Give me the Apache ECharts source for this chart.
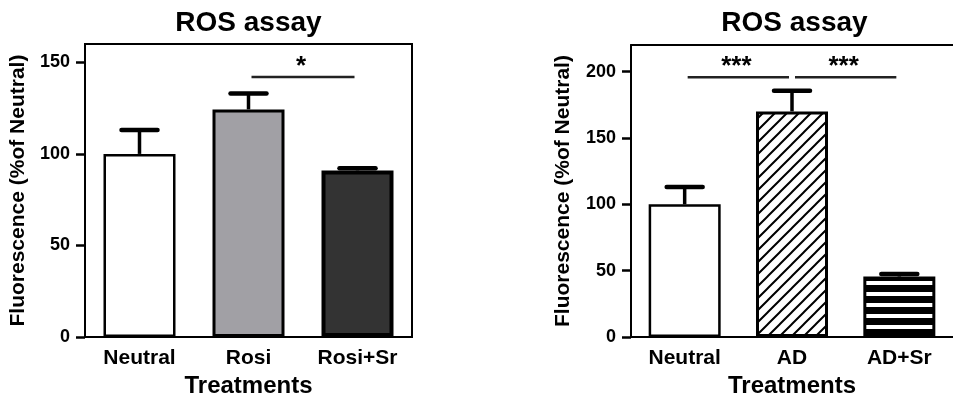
<!DOCTYPE html>
<html>
<head>
<meta charset="utf-8">
<script src="https://cdn.jsdelivr.net/npm/echarts@6/dist/echarts.min.js"></script>
<style>
    html, body { margin: 0; padding: 0; background: #fff; }
    #main { width: 953px; height: 403px; }
</style>
</head>
<body>
<div id="main"></div>
<script>
// 左图数据
var leftCats = ['Neutral', 'Rosi', 'Rosi+Sr'];
var leftVals = [100, 124.3, 91];
var leftErr = [113, 133, 92.2];
var leftTicks = [0, 50, 100, 150];
var leftSig = [[1, 2, 142]];
var leftSigText = ['*'];

// 右图数据
var rightCats = ['Neutral', 'AD', 'AD+Sr'];
var rightVals = [100, 170, 45.6];
var rightErr = [113, 185.6, 47.5];
var rightTicks = [0, 50, 100, 150, 200];
var rightSig = [[0, 1, 195.8], [1, 2, 195.8]];
var rightSigText = ['***', '***'];

var FONT = 'Liberation Sans';

//斜线填充
function hatchPattern() {
    var c = document.createElement('canvas');
    c.width = 12; c.height = 12;
    var ctx = c.getContext('2d');
    ctx.fillStyle = '#fff';
    ctx.fillRect(0, 0, 12, 12);
    ctx.strokeStyle = '#000';
    ctx.lineWidth = 2;
    ctx.beginPath();
    ctx.moveTo(-1, 13); ctx.lineTo(13, -1);
    ctx.moveTo(-1, 1); ctx.lineTo(1, -1);
    ctx.moveTo(11, 13); ctx.lineTo(13, 11);
    ctx.stroke();
    return c;
}

//横条纹填充
function stripePattern() {
    var c = document.createElement('canvas');
    c.width = 8; c.height = 11;
    var ctx = c.getContext('2d');
    ctx.fillStyle = '#000';
    ctx.fillRect(0, 0, 8, 11);
    ctx.fillStyle = '#fff';
    ctx.fillRect(0, 6, 8, 4);
    return c;
}

var leftStyles = [
    { color: '#fff', borderColor: '#000', borderWidth: 2.5 },
    { color: '#a1a0a5', borderColor: '#000', borderWidth: 3 },
    { color: '#333333', borderColor: '#000', borderWidth: 4 }
];
var rightStyles = [
    { color: '#fff', borderColor: '#000', borderWidth: 2.5 },
    { color: { image: hatchPattern(), repeat: 'repeat' }, borderColor: '#000', borderWidth: 3 },
    { color: { image: stripePattern(), repeat: 'repeat' }, borderColor: '#000', borderWidth: 3 }
];

function barData(vals, styles) {
    return vals.map(function (v, i) {
        return { value: v, itemStyle: styles[i] };
    });
}

function errData(vals, errs) {
    return vals.map(function (v, i) {
        return [i, v, errs[i]];
    });
}

//误差线
function renderErr(params, api) {
    var base = api.coord([api.value(0), api.value(1)]);
    var top = api.coord([api.value(0), api.value(2)]);
    var style = { stroke: '#000', lineWidth: 4.5, lineCap: 'round' };
    return {
        type: 'group',
        children: [
            { type: 'line', shape: { x1: base[0], y1: base[1], x2: top[0], y2: top[1] }, style: { stroke: '#000', lineWidth: 3.5 } },
            { type: 'line', shape: { x1: top[0] - 18, y1: top[1], x2: top[0] + 18, y2: top[1] }, style: style }
        ]
    };
}

//显著性标记
function sigRender(texts) {
    return function (params, api) {
        var p1 = api.coord([api.value(0), api.value(2)]);
        var p2 = api.coord([api.value(1), api.value(2)]);
        var x1 = p1[0] + 3, x2 = p2[0] - 3;
        return {
            type: 'group',
            children: [
                { type: 'line', shape: { x1: x1, y1: p1[1], x2: x2, y2: p1[1] }, style: { stroke: '#222', lineWidth: 2.5 } },
                {
                    type: 'text',
                    style: {
                        x: (x1 + x2) / 2 - 2, y: p1[1] - 10, text: texts[params.dataIndex],
                        fill: '#000', font: 'bold 26px "' + FONT + '"',
                        textAlign: 'center', textVerticalAlign: 'middle'
                    }
                }
            ]
        };
    };
}

function xAxisOf(idx, cats) {
    return {
        type: 'category', gridIndex: idx, data: cats,
        name: 'Treatments', nameLocation: 'middle', nameGap: 35,
        nameTextStyle: { fontFamily: FONT, fontWeight: 'bold', fontSize: 24, color: '#000' },
        axisLine: { lineStyle: { color: '#000', width: 2 } },
        axisTick: { alignWithLabel: true, length: 7, lineStyle: { color: '#000', width: 2 } },
        axisLabel: { fontFamily: FONT, fontWeight: 'bold', fontSize: 21, color: '#000', margin: 11 }
    };
}

//上边框线
function topLineOf(idx, cats) {
    return {
        type: 'category', gridIndex: idx, data: cats, position: 'top',
        axisLine: { lineStyle: { color: '#000', width: 2 } },
        axisTick: { show: false }, axisLabel: { show: false }
    };
}

function yAxisOf(idx, max, ticks, gap) {
    return {
        type: 'value', gridIndex: idx, min: 0, max: max, interval: 50,
        name: 'Fluorescence (%of Neutral)', nameLocation: 'middle', nameGap: gap,
        nameTextStyle: { fontFamily: FONT, fontWeight: 'bold', fontSize: 21, color: '#000' },
        splitLine: { show: false },
        axisLine: { show: true, lineStyle: { color: '#000', width: 2 } },
        axisTick: { show: true, length: 9, customValues: ticks, lineStyle: { color: '#000', width: 2.5 } },
        axisLabel: { customValues: ticks, fontFamily: FONT, fontWeight: 'bold', fontSize: 18, color: '#000', margin: 15 }
    };
}

var chart = echarts.init(document.getElementById('main'));

var option = {
    backgroundColor: '#fff',
    animation: false,
    title: [
        { text: 'ROS assay', left: 243.5, top: 4, textAlign: 'center',
          textStyle: { fontFamily: FONT, fontWeight: 'bold', fontSize: 28, color: '#000' } },
        { text: 'ROS assay', left: 789.5, top: 4, textAlign: 'center',
          textStyle: { fontFamily: FONT, fontWeight: 'bold', fontSize: 28, color: '#000' } }
    ],
    grid: [
        { left: 85, top: 44, width: 327, height: 295, show: true, borderColor: '#000', borderWidth: 2, backgroundColor: 'transparent' },
        { left: 631, top: 45, width: 326, height: 294 }
    ],
    xAxis: [xAxisOf(0, leftCats), xAxisOf(1, rightCats), topLineOf(1, rightCats)],
    yAxis: [yAxisOf(0, 160, leftTicks, 56), yAxisOf(1, 220, rightTicks, 57)],
    series: [
        { type: 'bar', xAxisIndex: 0, yAxisIndex: 0, barWidth: 72, data: barData(leftVals, leftStyles), z: 2 },
        { type: 'bar', xAxisIndex: 1, yAxisIndex: 1, barWidth: 72, data: barData(rightVals, rightStyles), z: 2 },
        { type: 'custom', xAxisIndex: 0, yAxisIndex: 0, renderItem: renderErr, data: errData(leftVals, leftErr), encode: { x: 0, y: [1, 2] }, z: 3 },
        { type: 'custom', xAxisIndex: 1, yAxisIndex: 1, renderItem: renderErr, data: errData(rightVals, rightErr), encode: { x: 0, y: [1, 2] }, z: 3 },
        { type: 'custom', xAxisIndex: 0, yAxisIndex: 0, renderItem: sigRender(leftSigText), data: leftSig, encode: { x: [0, 1], y: 2 }, z: 3 },
        { type: 'custom', xAxisIndex: 1, yAxisIndex: 1, renderItem: sigRender(rightSigText), data: rightSig, encode: { x: [0, 1], y: 2 }, z: 3 }
    ]
};

chart.setOption(option);
</script>
</body>
</html>
